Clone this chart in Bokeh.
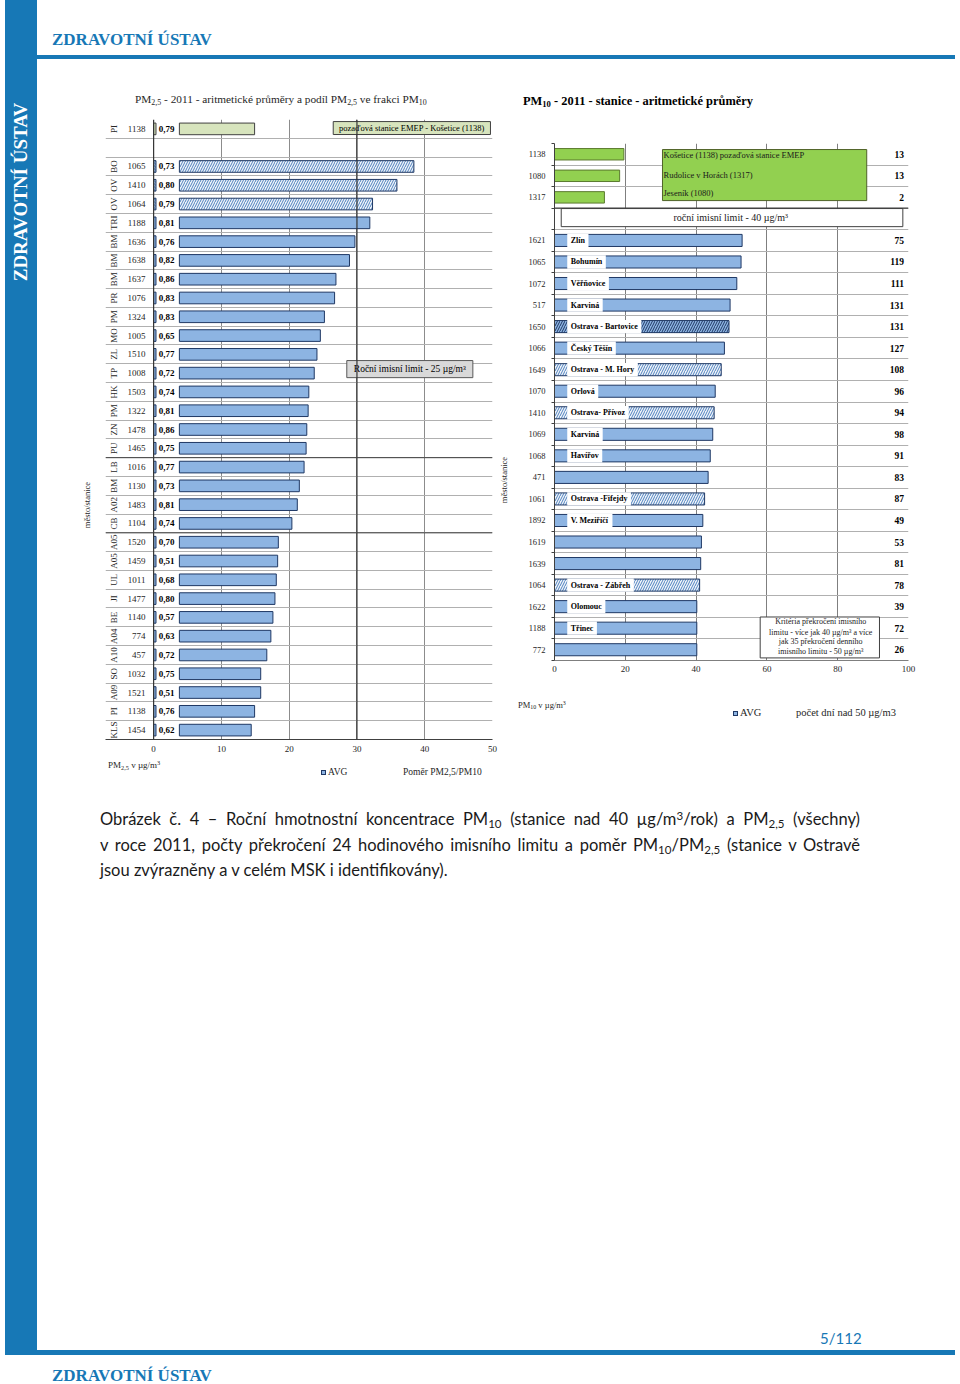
import math
import unicodedata
from bokeh.plotting import figure
from bokeh.models import ColumnDataSource, Range1d, FixedTicker, Div, Spacer, Span
from bokeh.layouts import row, column
from bokeh.core.properties import value
from bokeh.embed import file_html
from bokeh.resources import INLINE

# ---------------- data: PM2.5 (left chart) ----------------
pm25_city = ["PI", "BO", "OV", "OV", "TRI", "BM", "BM", "BM", "PR", "PM", "MO", "ZL", "TP", "HK",
             "PM", "ZN", "PU", "LB", "BM", "A02", "CB", "A05", "A05", "UL", "JI", "BE", "A04",
             "A10", "SO", "A09", "PI", "KLS"]
pm25_station = ["1138", "1065", "1410", "1064", "1188", "1636", "1638", "1637", "1076", "1324",
                "1005", "1510", "1008", "1503", "1322", "1478", "1465", "1016", "1130", "1483",
                "1104", "1520", "1459", "1011", "1477", "1140", "774", "457", "1032", "1521",
                "1138", "1454"]
pm25_avg = [14.9, 38.4, 35.9, 32.3, 31.9, 29.7, 28.9, 26.9, 26.7, 25.2, 24.6, 24.1, 23.7, 22.9,
            22.8, 22.6, 22.5, 22.2, 21.5, 21.2, 20.4, 18.4, 18.3, 18.1, 17.9, 17.6, 17.3, 16.7,
            15.8, 15.8, 14.9, 14.4]
pm25_ratio = [0.79, 0.73, 0.80, 0.79, 0.81, 0.76, 0.82, 0.86, 0.83, 0.83, 0.65, 0.77, 0.72, 0.74,
              0.81, 0.86, 0.75, 0.77, 0.73, 0.81, 0.74, 0.70, 0.51, 0.68, 0.80, 0.57, 0.63, 0.72,
              0.75, 0.51, 0.76, 0.62]
pm25_group = ["emep", "ostrava", "ostrava", "ostrava"] + ["other"] * 28
pm25_ticks = [0, 10, 20, 30, 40, 50]

# ---------------- data: PM10 (right chart) ----------------
pm10_station = ["1138", "1080", "1317", "1621", "1065", "1072", "517", "1650", "1066", "1649",
                "1070", "1410", "1069", "1068", "471", "1061", "1892", "1619", "1639", "1064",
                "1622", "1188", "772"]
pm10_avg = [19.6, 18.4, 14.1, 53.0, 52.7, 51.5, 49.6, 49.3, 48.0, 47.1, 45.4, 45.1, 44.7, 44.0,
            43.4, 42.4, 41.9, 41.5, 41.3, 41.0, 40.2, 40.2, 40.2]
pm10_days = [13, 13, 2, 75, 119, 111, 131, 131, 127, 108, 96, 94, 98, 91, 83, 87, 49, 53, 81, 78,
             39, 72, 26]
pm10_name = ["", "", "", "Zlín", "Bohumín", "Věřňovice", "Karviná", "Ostrava - Bartovice",
             "Český Těšín", "Ostrava - M. Hory", "Orlová", "Ostrava- Přívoz", "Karviná", "Havířov",
             "", "Ostrava -Fifejdy", "V. Meziříčí", "", "", "Ostrava - Zábřeh", "Olomouc", "Třinec", ""]
pm10_group = ["emep"] * 3 + ["other"] * 4 + ["ostrava_dark", "other", "ostrava", "other", "ostrava",
              "other", "other", "other", "ostrava", "other", "other", "other", "ostrava",
              "other", "other", "other"]
pm10_ticks = [0, 20, 40, 60, 80, 100]

# ---------------- styles ----------------
BLUE = "#1778b6"
SERIF = "Liberation Serif"
TXT = "#262626"
BAR_FILL = "#8db4e2"
BAR_LINE = "#1f3864"
STYLE = {
    "other": (BAR_FILL, BAR_LINE, " ", BAR_FILL),
    "ostrava": ("#eef3fa", BAR_LINE, "/", "#4f81bd"),
    "ostrava_dark": (BAR_FILL, BAR_LINE, "/", "#1f3864"),
    "emep25": ("#d7e4bd", "#404040", " ", "#d7e4bd"),
    "emep10": ("#92d050", "#5b7a2e", " ", "#92d050"),
}

BOLD_W = dict(zip("abcdefghijklmnopqrstuvwxyz",
                  [500, 556, 444, 556, 444, 333, 500, 556, 278, 333, 556, 278, 833, 556, 500, 556,
                   556, 444, 389, 333, 556, 500, 722, 500, 500, 444]))
BOLD_W.update(zip("ABCDEFGHIJKLMNOPQRSTUVWXYZ",
                  [722, 667, 722, 722, 667, 611, 778, 778, 389, 500, 778, 667, 944, 722, 778, 611,
                   778, 722, 556, 667, 722, 722, 1000, 722, 722, 667]))
BOLD_W.update({" ": 250, "-": 333, ",": 250, ".": 250})


def tw_bold(text, size):
    w = 0
    for ch in text:
        if ch in BOLD_W:
            w += BOLD_W[ch]
        else:
            w += BOLD_W.get(unicodedata.normalize("NFD", ch)[0], 500)
    return w * size / 1000.0


def nodiv(w, h, html, **kw):
    return Div(width=w, height=h, margin=(0, 0, 0, 0), text=html, **kw)


def abs_text(left, top, html, size, extra=""):
    return ('<div style="position:absolute;left:%spx;top:%spx;white-space:nowrap;line-height:1;'
            "font-family:'Liberation Serif';font-size:%spx;color:%s;%s\">%s</div>"
            % (left, top, size, TXT, extra, html))


def wrap(w, h, inner):
    return '<div style="position:relative;width:%dpx;height:%dpx;">%s</div>' % (w, h, inner)


SUB = '<sub style="font-size:70%;line-height:0;vertical-align:-0.25em;">'
SUP = '<sup style="font-size:70%;line-height:0;vertical-align:0.45em;">'
SQ = ('<span style="display:inline-block;width:5px;height:5px;background:#8db4e2;'
      'border:1px solid #1f3864;margin-right:2px;vertical-align:0px;"></span>')

# ================= left chart (PM2.5) =================
L_XR = (-7.1, 50)
L_YR = (-0.5, 32.5)
BAR_START = 3.8
RATIO_W = 0.35

rows25 = [0] + [i + 1 for i in range(1, len(pm25_station))]
sty25 = [STYLE["emep25"] if g == "emep" else STYLE[g] for g in pm25_group]
src25 = ColumnDataSource(dict(
    y=rows25, avg=pm25_avg, station=pm25_station, city=pm25_city,
    ratio=[f"{r:.2f}".replace(".", ",") for r in pm25_ratio],
    fill=[s[0] for s in sty25], line=[s[1] for s in sty25],
    hatch=[s[2] for s in sty25], hcolor=[s[3] for s in sty25]))

pl = figure(width=395, height=642, x_range=Range1d(*L_XR), y_range=Range1d(L_YR[1], L_YR[0]),
            output_backend="svg", toolbar_location=None, y_axis_location=None,
            min_border_left=0, min_border_right=8, min_border_top=2, min_border_bottom=20)
pl.outline_line_color = None
pl.xgrid.ticker = FixedTicker(ticks=[10, 20, 30, 40, 50])
pl.xgrid.grid_line_color = "#8c8c8c"
pl.ygrid.ticker = FixedTicker(ticks=[r + 0.5 for r in range(-1, 33)])
pl.ygrid.grid_line_color = "#b0b0b0"
for loc in (0, 30):
    pl.add_layout(Span(location=loc, dimension="height", line_color="#333333", line_width=1.2))
for loc in (17.5, 21.5):
    pl.add_layout(Span(location=loc, dimension="width", line_color="#404040", line_width=1))

xa = pl.xaxis[0]
xa.ticker = FixedTicker(ticks=pm25_ticks)
xa.axis_line_color = "#404040"
xa.major_tick_out = 0
xa.major_tick_in = 0
xa.major_label_text_font = SERIF
xa.major_label_text_font_size = "9px"
xa.major_label_text_color = TXT
xa.major_label_standoff = 6

pl.hbar(y="y", left=BAR_START, right="avg", height=0.62, fill_color="fill", line_color="line",
        hatch_pattern="hatch", hatch_color="hcolor", hatch_scale=5, hatch_weight=1, source=src25)
pl.hbar(y="y", left=0, right=RATIO_W, height=0.62, fill_color="fill", line_color="line",
        hatch_pattern="hatch", hatch_color="hcolor", hatch_scale=3, hatch_weight=1, source=src25)
pl.text(x=0.75, y="y", text="ratio", text_font=value(SERIF), text_font_style="bold",
        text_font_size="9px", text_color="#000000", text_align="left", text_baseline="middle",
        source=src25)
pl.text(x=-1.2, y="y", text="station", text_font=value(SERIF), text_font_size="9px",
        text_color=TXT, text_align="right", text_baseline="middle", source=src25)
pl.text(x=-5.9, y="y", text="city", angle=math.pi / 2, text_font=value(SERIF),
        text_font_size="9px", text_color=TXT, text_align="center", text_baseline="middle",
        source=src25)

pl.quad(left=26.5, right=49.7, top=-0.39, bottom=0.30, fill_color="#d7e4bd", line_color="#404040")
pl.text(x=38.1, y=-0.05, text=["pozaďová stanice EMEP - Košetice (1138)"], text_font=value(SERIF),
        text_font_size="8.5px", text_color="#000000", text_align="center", text_baseline="middle")
pl.quad(left=28.5, right=47.1, top=12.33, bottom=13.24, fill_color="#d9d9d9", line_color="#595959")
pl.text(x=37.8, y=12.8, text=["Roční imisní limit - 25 µg/m³"], text_font=value(SERIF),
        text_font_size="9.5px", text_color="#000000", text_align="center", text_baseline="middle")

l_title = nodiv(463, 57, wrap(463, 57, abs_text(
    98, 34, 'PM' + SUB + '2,5</sub> - 2011 - aritmetické průměry a podíl PM' + SUB +
    '2,5</sub> ve frakci PM' + SUB + '10</sub>', 11.3)))
l_side = nodiv(68, 642, wrap(68, 642, abs_text(
    50, 388, 'město/stanice', 8.5, "transform:translate(-50%,-50%) rotate(-90deg);")))
l_legend = nodiv(463, 36, wrap(463, 36,
    abs_text(71, 2, 'PM' + SUB + '2,5</sub> v µg/m' + SUP + '3</sup>', 9) +
    abs_text(284, 9, SQ + 'AVG', 9.5) +
    abs_text(366, 9, 'Poměr PM2,5/PM10', 9.5)))
left_block = column(l_title, row(l_side, pl), l_legend)

# ================= right chart (PM10) =================
R_XR = (0, 100)
R_YR = (-0.5, 23.5)
R_FRAME_W = 354

rows10 = [i if i < 3 else i + 1 for i in range(len(pm10_station))]
sty10 = [STYLE["emep10"] if g == "emep" else STYLE[g] for g in pm10_group]
src10 = ColumnDataSource(dict(
    y=rows10, avg=pm10_avg, days=[str(d) for d in pm10_days],
    h=[0.53 if g == "emep" else 0.56 for g in pm10_group],
    fill=[s[0] for s in sty10], line=[s[1] for s in sty10],
    hatch=[s[2] for s in sty10], hcolor=[s[3] for s in sty10]))

pr = figure(width=435, height=539, x_range=Range1d(*R_XR), y_range=Range1d(R_YR[1], R_YR[0]),
            output_backend="svg", toolbar_location=None,
            min_border_left=34, min_border_right=47, min_border_top=2, min_border_bottom=20)
pr.outline_line_color = None
pr.xgrid.ticker = FixedTicker(ticks=[20, 40, 60, 80, 100])
pr.xgrid.grid_line_color = "#7f7f7f"
bounds10 = [r + 0.5 for r in range(-1, 24)]
pr.ygrid.ticker = FixedTicker(ticks=bounds10)
pr.ygrid.grid_line_color = "#b0b0b0"
pr.add_layout(Span(location=2.5, dimension="width", line_color="#404040", line_width=1.2))

ya = pr.yaxis[0]
ya.ticker = FixedTicker(ticks=rows10, minor_ticks=bounds10)
ya.major_label_overrides = {r: s for r, s in zip(rows10, pm10_station)}
ya.axis_line_color = "#404040"
ya.major_tick_out = 0
ya.major_tick_in = 0
ya.minor_tick_out = 3
ya.minor_tick_in = 0
ya.minor_tick_line_color = "#404040"
ya.major_label_text_font = SERIF
ya.major_label_text_font_size = "8.5px"
ya.major_label_text_color = TXT
ya.major_label_standoff = 6

xb = pr.xaxis[0]
xb.ticker = FixedTicker(ticks=pm10_ticks)
xb.axis_line_color = "#7f7f7f"
xb.major_tick_out = 0
xb.major_tick_in = 0
xb.major_label_text_font = SERIF
xb.major_label_text_font_size = "9px"
xb.major_label_text_color = TXT
xb.major_label_standoff = 5

pr.hbar(y="y", left=0, right="avg", height="h", fill_color="fill", line_color="line",
        hatch_pattern="hatch", hatch_color="hcolor", hatch_scale=5, hatch_weight=1, source=src10)

PX10 = R_FRAME_W / (R_XR[1] - R_XR[0])
NAME_X = 3.6
named = [(y, n) for y, n in zip(rows10, pm10_name) if n]
name_src = ColumnDataSource(dict(
    y=[y for y, _ in named], name=[n for _, n in named],
    right=[NAME_X + (tw_bold(n, 8) + 7) / PX10 for _, n in named]))
pr.hbar(y="y", left=NAME_X, right="right", height=0.62, fill_color="white", line_color=None,
        source=name_src)
pr.text(x=NAME_X + 3.5 / PX10, y="y", text="name", text_font=value(SERIF), text_font_style="bold",
        text_font_size="8px", text_color="#000000", text_align="left", text_baseline="middle",
        source=name_src)
pr.text(x=98.7, y="y", text="days", text_font=value(SERIF), text_font_style="bold",
        text_font_size="9.5px", text_color="#000000", text_align="right", text_baseline="middle",
        source=src10)

pr.quad(left=30.5, right=88.2, top=-0.22, bottom=2.15, fill_color="#92d050", line_color="#4f6228")
pr.text(x=30.8, y=[0.05, 0.95, 1.82],
        text=["Košetice (1138) pozaďová stanice EMEP", "Rudolice v Horách (1317)", "Jeseník (1080)"],
        text_font=value(SERIF), text_font_size="8.5px", text_color="#1a1a1a", text_align="left",
        text_baseline="middle")
pr.quad(left=1.9, right=98.4, top=2.52, bottom=3.36, fill_color="white", line_color="#404040")
pr.text(x=49.8, y=2.95, text=["roční imisní limit - 40 µg/m³"], text_font=value(SERIF),
        text_font_size="10px", text_color="#1a1a1a", text_align="center", text_baseline="middle")
pr.quad(left=58.1, right=91.8, top=21.48, bottom=23.38, fill_color="white", line_color="#404040")
pr.text(x=75.2, y=[21.71, 22.18, 22.64, 23.06],
        text=["Kritéria překročení imisního", "limitu - více jak 40 µg/m³ a více",
              "jak 35 překročení denního", "imisního limitu - 50 µg/m³"],
        text_font=value(SERIF), text_font_size="8px", text_color="#1a1a1a", text_align="center",
        text_baseline="middle")

r_title = nodiv(455, 81, wrap(455, 81, abs_text(
    23, 35, 'PM' + SUB + '10</sub> - 2011 - stanice - aritmetické průměry', 12.4,
    "font-weight:bold;color:#000;")))
r_side = nodiv(20, 539, wrap(20, 539, abs_text(
    4, 339, 'město/stanice', 8.5, "transform:translate(-50%,-50%) rotate(-90deg);")))
r_legend = nodiv(455, 115, wrap(455, 115,
    abs_text(18, 21, 'PM' + SUB + '10</sub> v µg/m' + SUP + '3</sup>', 8.5) +
    abs_text(233, 28, SQ + 'AVG', 10.5) +
    abs_text(296, 28, 'počet dní nad 50 µg/m3', 10.5)))
right_block = column(r_title, row(r_side, pr), r_legend)

# ================= page decoration =================
sidebar = nodiv(32, 1350, wrap(32, 1350,
    '<div style="position:absolute;left:16px;top:192px;'
    'transform:translate(-50%,-50%) rotate(-90deg);white-space:nowrap;'
    "color:white;font-family:'Liberation Serif';font-weight:bold;"
    'font-size:19px;">ZDRAVOTNÍ ÚSTAV</div>'), styles={"background-color": BLUE})
header = nodiv(918, 60, wrap(918, 60,
    '<div style="position:absolute;left:15px;top:31px;color:' + BLUE + ';'
    "font-family:'Liberation Serif';font-weight:bold;font-size:17px;line-height:1;"
    'white-space:nowrap;">ZDRAVOTNÍ ÚSTAV</div>'
    '<div style="position:absolute;left:0;top:55px;width:918px;height:4px;'
    'background:' + BLUE + ';"></div>'))
caption = nodiv(918, 100, (
    '<div style="margin-left:63px;width:760px;padding-top:12px;'
    "font-family:Lato,'Open Sans',sans-serif;font-size:16.5px;line-height:25.5px;color:#1a1a1a;\">"
    '<div style="text-align:justify;text-align-last:justify;white-space:nowrap;">'
    'Obrázek č. 4 – Roční hmotnostní koncentrace PM' + SUB + '10</sub> (stanice nad 40 µg/m'
    + SUP + '3</sup>/rok) a PM' + SUB + '2,5</sub> (všechny)</div>'
    '<div style="text-align:justify;text-align-last:justify;white-space:nowrap;">'
    'v roce 2011, počty překročení 24 hodinového imisního limitu a poměr PM' + SUB + '10</sub>/PM'
    + SUB + '2,5</sub> (stanice v Ostravě</div>'
    '<div style="white-space:nowrap;">jsou zvýrazněny a v celém MSK i identifikovány).</div>'
    '</div>'))
pagenum = nodiv(918, 20, wrap(918, 20,
    '<div style="position:absolute;left:783px;top:1px;color:' + BLUE + ';'
    "font-family:Lato,sans-serif;font-size:15px;line-height:1;\">5/112</div>"))
footer = nodiv(950, 34, wrap(950, 34,
    '<div style="position:absolute;left:0;top:0;width:950px;height:5px;background:' + BLUE + ';"></div>'
    '<div style="position:absolute;left:47px;top:17px;color:' + BLUE + ';'
    "font-family:'Liberation Serif';font-weight:bold;font-size:17px;line-height:1;"
    'white-space:nowrap;">ZDRAVOTNÍ ÚSTAV</div>'))

content = column(header, row(left_block, right_block), caption,
                 Spacer(width=918, height=435, margin=(0, 0, 0, 0)), pagenum)
main = column(row(sidebar, content), footer)
root = row(Spacer(width=5, height=1384, margin=(0, 0, 0, 0)), main)

open("out.html", "w").write(file_html(root, INLINE))
